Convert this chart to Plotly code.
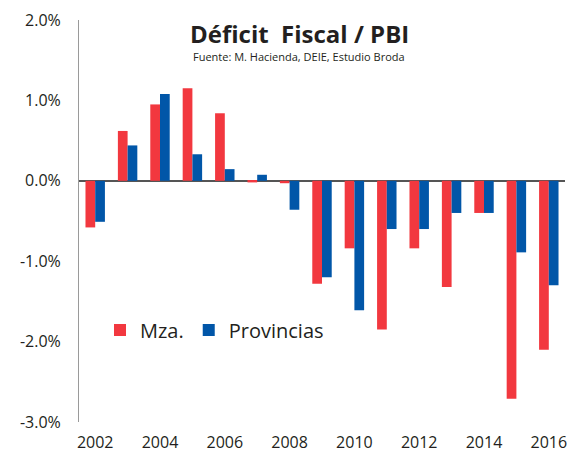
import plotly.graph_objects as go

years = list(range(2002, 2017))
mza = [-0.58, 0.62, 0.95, 1.15, 0.84, -0.02, -0.03, -1.28, -0.84, -1.85, -0.84, -1.32, -0.40, -2.71, -2.10]
provincias = [-0.51, 0.44, 1.08, 0.33, 0.145, 0.075, -0.36, -1.20, -1.61, -0.60, -0.60, -0.40, -0.40, -0.89, -1.30]
y_ticks = [-3, -2, -1, 0, 1, 2]
y_ticktext = ["-3.0%", "-2.0%", "-1.0%", "0.0%", "1.0%", "2.0%"]

RED = "#F2383F"
BLUE = "#0156A8"
FONT = "Open Sans"
TXT = "#231F20"

L, R, T, B = 79, 6, 20, 30
W, H = 571, 452

fig = go.Figure()
fig.add_trace(go.Bar(x=years, y=mza, name="Mza.", marker=dict(color=RED, line=dict(width=0))))
fig.add_trace(go.Bar(x=years, y=provincias, name="Provincias", marker=dict(color=BLUE, line=dict(width=0))))

plot_w = W - L - R
plot_h = H - T - B
def px(xp):
    return (xp - L) / plot_w
def py(yp):
    return (H - B - yp) / plot_h

fig.update_layout(
    width=W, height=H,
    margin=dict(l=L, r=R, t=T, b=B, autoexpand=False),
    paper_bgcolor="white", plot_bgcolor="white",
    barmode="group", bargap=0.4, bargroupgap=0,
    font=dict(family=FONT, color=TXT),
    showlegend=True,
    legend=dict(orientation="h", x=px(100), y=py(330), xanchor="left", yanchor="middle",
                font=dict(size=20, family=FONT, color=TXT),
                bgcolor="rgba(0,0,0,0)", traceorder="normal"),
    xaxis=dict(range=[2001.5, 2016.5], tickmode="array", tickvals=years[::2],
               ticktext=[str(y) for y in years[::2]], showgrid=False, showline=False,
               zeroline=False, ticks="", ticklabelstandoff=9,
               tickfont=dict(size=16, family=FONT, color=TXT)),
    yaxis=dict(range=[-3, 2], tickmode="array", tickvals=y_ticks, ticktext=y_ticktext,
               showgrid=False, showline=True, linecolor="#9A9A9A", linewidth=1,
               zeroline=True, zerolinecolor="#555555", zerolinewidth=2,
               ticks="", ticklabelstandoff=14,
               tickfont=dict(size=16, family=FONT, color=TXT)),
)
fig.add_annotation(text="<b>Déficit  Fiscal / PBI</b>", x=px(299), y=py(33), xref="paper", yref="paper",
                   xanchor="center", yanchor="middle", showarrow=False,
                   font=dict(size=24, family=FONT, color=TXT))
fig.add_annotation(text="Fuente: M. Hacienda, DEIE, Estudio Broda", x=px(299), y=py(56), xref="paper", yref="paper",
                   xanchor="center", yanchor="middle", showarrow=False,
                   font=dict(size=11, family=FONT, color=TXT))

fig.write_html("out.html", config={"displayModeBar": False},
               post_script="document.body.style.margin='0';document.body.style.padding='0';")
